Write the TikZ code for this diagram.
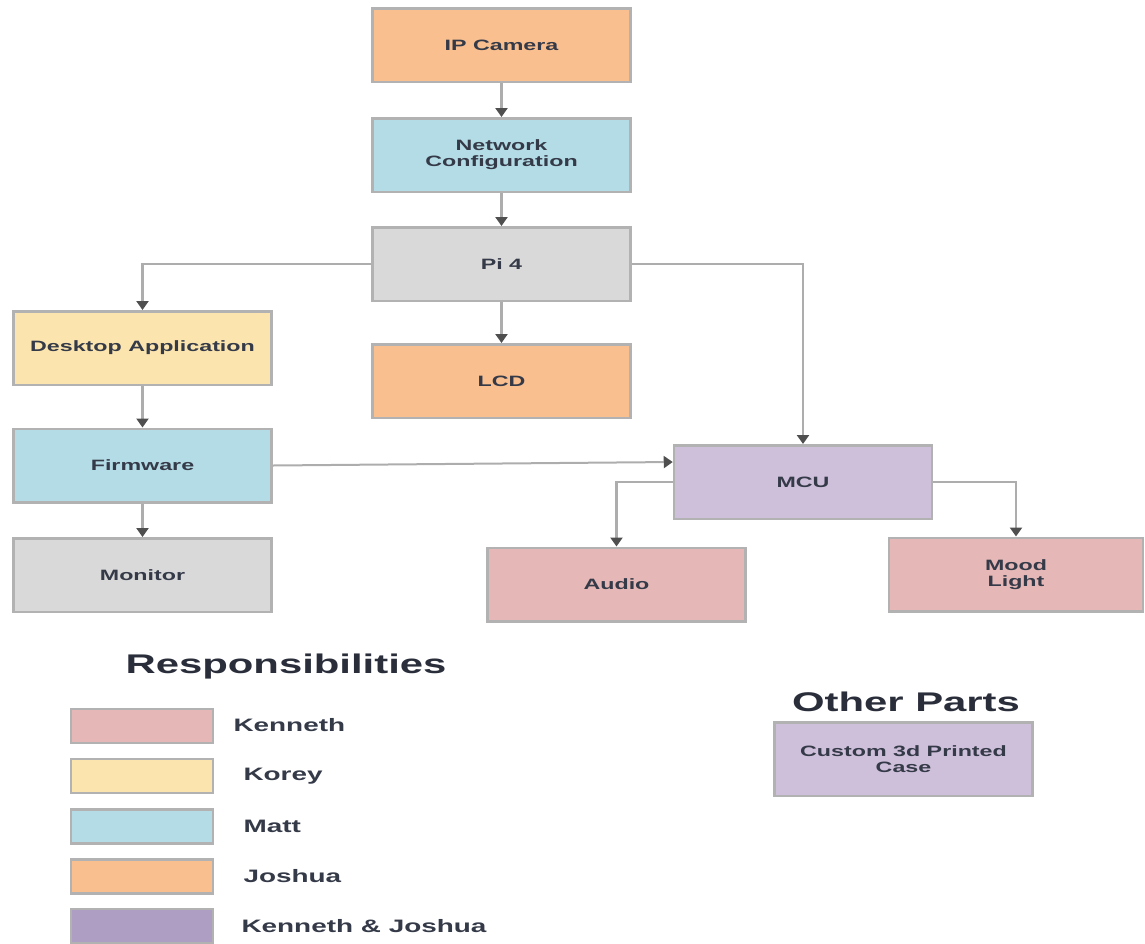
\documentclass[tikz,border=0pt]{standalone}
\usepackage{fontspec}
\newfontfamily\dfont{Liberation Sans}[FakeStretch=1.55]
\usetikzlibrary{arrows.meta}
\definecolor{cOrange}{HTML}{F9BF8F}
\definecolor{cBlue}{HTML}{B4DCE6}
\definecolor{cGray}{HTML}{D9D9D9}
\definecolor{cYellow}{HTML}{FBE4AE}
\definecolor{cPurple}{HTML}{CEC0DA}
\definecolor{cPink}{HTML}{E5B8B7}
\definecolor{cDPurple}{HTML}{AF9EC4}
\definecolor{cBorder}{HTML}{B2B2B2}
\definecolor{cLine}{HTML}{ADADAD}
\definecolor{cTip}{HTML}{4F4F4F}
\definecolor{cText}{HTML}{353A48}
\tikzset{
  box/.style={draw=cBorder, line width=2.5pt, minimum width=258pt, minimum height=73.5pt,
    inner sep=0pt, align=center, text=cText},
  legbox/.style={draw=cBorder, line width=2.5pt, minimum width=142pt, minimum height=34pt, inner sep=0pt},
  legtext/.style={anchor=west, text=cText, font=\dfont\bfseries\fontsize{18}{20}\selectfont},
  title/.style={text=cText!80!black, font=\dfont\bfseries\fontsize{27}{30}\selectfont},
  arr/.style={draw=cLine, line width=2.6pt, -{Triangle[length=9pt,width=12pt,color=cTip]}},
}
\begin{document}
\begin{tikzpicture}[x=1pt,y=-1pt, font=\dfont\bfseries\fontsize{15}{16}\selectfont]
\useasboundingbox (0,0) rectangle (1145,943);
% main boxes
\node[box, fill=cOrange] (ip) at (501.5,45) {IP Camera};
\node[box, fill=cBlue] (net) at (501.5,155) {Network\\Configuration};
\node[box, fill=cGray] (pi) at (501.5,264) {Pi 4};
\node[box, fill=cOrange] (lcd) at (501.5,381) {LCD};
\node[box, fill=cYellow] (desk) at (142.5,348) {Desktop Application};
\node[box, fill=cBlue] (firm) at (142.5,465.5) {Firmware};
\node[box, fill=cGray] (mon) at (142.5,575) {Monitor};
\node[box, fill=cPurple] (mcu) at (803,482) {MCU};
\node[box, fill=cPink] (audio) at (616.5,584.5) {Audio};
\node[box, fill=cPink, minimum width=254pt] (mood) at (1016,574.5) {Mood\\Light};
% connectors
\draw[arr] (ip) -- (net);
\draw[arr] (net) -- (pi);
\draw[arr] (pi.west) -| (desk.north);
\draw[arr] (pi) -- (lcd);
\draw[arr] (pi.east) -| (mcu.north);
\draw[arr] (desk) -- (firm);
\draw[arr] (firm) -- (mon);
\draw[arr, line width=2pt] (firm.east) -- ([yshift=20pt]mcu.west);
\draw[arr] (mcu.west) -| (audio.north);
\draw[arr] (mcu.east) -| (mood.north);
% legend
\node[title] (resp) at (286,667) {Responsibilities};
\node[legbox, fill=cPink] (l1) at (142,726) {};
\node[legbox, fill=cYellow] (l2) at (142,776) {};
\node[legbox, fill=cBlue] (l3) at (142,826.5) {};
\node[legbox, fill=cOrange] (l4) at (142,876.5) {};
\node[legbox, fill=cDPurple] (l5) at (142,926) {};
\node[legtext] (t1) at (230,725) {Kenneth};
\node[legtext] (t2) at (240,776) {Korey};
\node[legtext] (t3) at (240,826) {Matt};
\node[legtext] (t4) at (240,876) {Joshua};
\node[legtext] (t5) at (238,926) {Kenneth \& Joshua};
% other parts
\node[title] (other) at (906,702) {Other Parts};
\node[box, fill=cPurple] (case) at (903.5,759) {Custom 3d Printed\\Case};
\end{tikzpicture}
\end{document}
